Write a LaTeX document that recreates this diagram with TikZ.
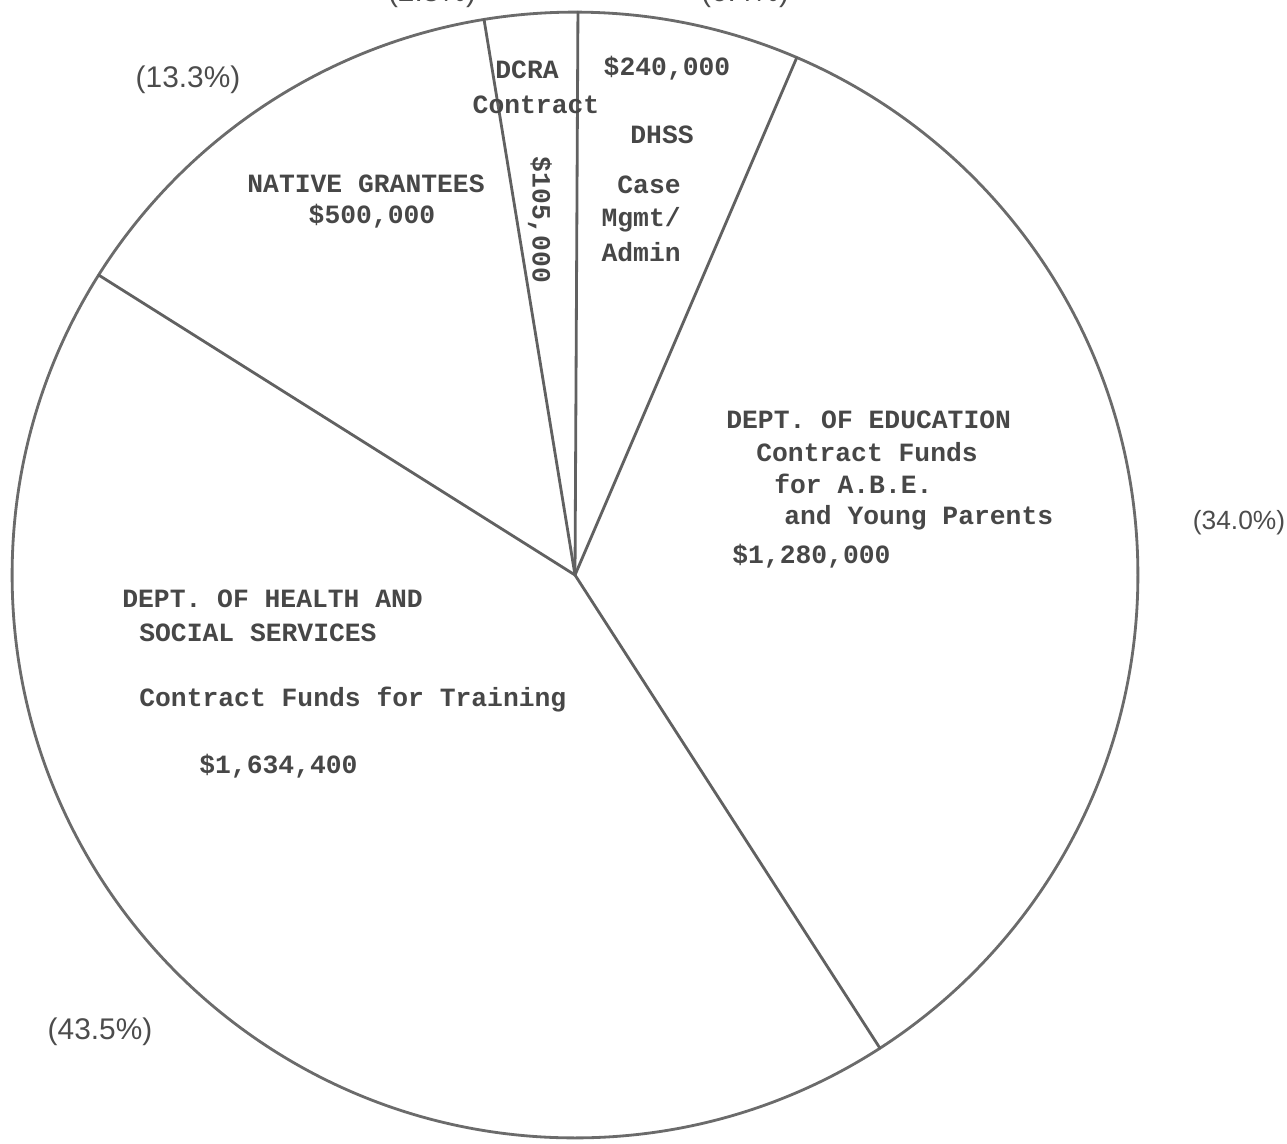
\documentclass[tikz,border=0pt]{standalone}
\usepackage{fontspec}
\usetikzlibrary{calc}
\newfontfamily\typew{Liberation Mono}
\newfontfamily\pctfont{Liberation Sans}
\begin{document}
\begin{tikzpicture}[x=0.02cm,y=-0.02cm,
  rim/.style={draw=black!58,line width=1.6pt},
  spoke/.style={draw=black!62,line width=1.6pt,line cap=round},
  lbl/.style={inner sep=0pt,text=black!72,font=\typew\bfseries\fontsize{15}{18}\selectfont},
  pct/.style={inner sep=0pt,text=black!70,font=\pctfont\fontsize{17}{20}\selectfont}]
\useasboundingbox (0,0) rectangle (1287,1143);
\coordinate (c) at (575,575);
\draw[rim] (c) circle[radius=11.26cm];
\coordinate (p1) at ($(c)+(99.3:11.26cm)$);
\coordinate (p2) at ($(c)+(89.7:11.26cm)$);
\coordinate (p3) at ($(c)+(66.8:11.26cm)$);
\coordinate (p4) at ($(c)+(-57.2:11.26cm)$);
\coordinate (p5) at ($(c)+(147.8:11.26cm)$);
\foreach \p in {p1,p2,p3,p4,p5} \draw[spoke] (c) -- (\p);
% percentages
\node[pct] (pctdcra) at (432,-6) {(2.8\%)};
\node[pct] (pctdhss) at (745,-6) {(6.4\%)};
\node[pct] (pctnat) at (188,80) {(13.3\%)};
\node[pct,font=\pctfont\fontsize{15}{18}\selectfont] (pcted) at (1239,523) {(34.0\%)};
\node[pct] (pcthss) at (100,1032) {(43.5\%)};
% DCRA slice
\node[lbl] (dcra) at (527,70) {DCRA};
\node[lbl] (dcrac) at (536,105) {Contract};
\node[lbl,rotate=-90] (dcraamt) at (540,220) {\$105,000};
% DHSS case mgmt
\node[lbl] (dhssamt) at (667,68) {\$240,000};
\node[lbl] (dhss) at (662,135) {DHSS};
\node[lbl,anchor=east] (case) at (681,185) {Case};
\node[lbl,anchor=east] (mgmt) at (681,220) {Mgmt/};
\node[lbl,anchor=east] (admin) at (681,252) {Admin};
% Native grantees
\node[lbl] (native) at (366,184) {NATIVE GRANTEES};
\node[lbl] (nativeamt) at (372,216) {\$500,000};
% Education
\node[lbl,anchor=west] (ed1) at (726,420) {DEPT. OF EDUCATION};
\node[lbl,anchor=west] (ed2) at (756,452) {Contract Funds};
\node[lbl,anchor=west] (ed3) at (774,484) {for A.B.E.};
\node[lbl,anchor=west] (ed4) at (784,518) {and Young Parents};
\node[lbl,anchor=west] (edamt) at (732,556) {\$1,280,000};
% Health and social services
\node[lbl,anchor=west] (hs1) at (122,599) {DEPT. OF HEALTH AND};
\node[lbl,anchor=west] (hs2) at (139,633) {SOCIAL SERVICES};
\node[lbl,anchor=west] (hs3) at (139,700) {Contract Funds for Training};
\node[lbl,anchor=west] (hsamt) at (199,766) {\$1,634,400};
\end{tikzpicture}
\end{document}
